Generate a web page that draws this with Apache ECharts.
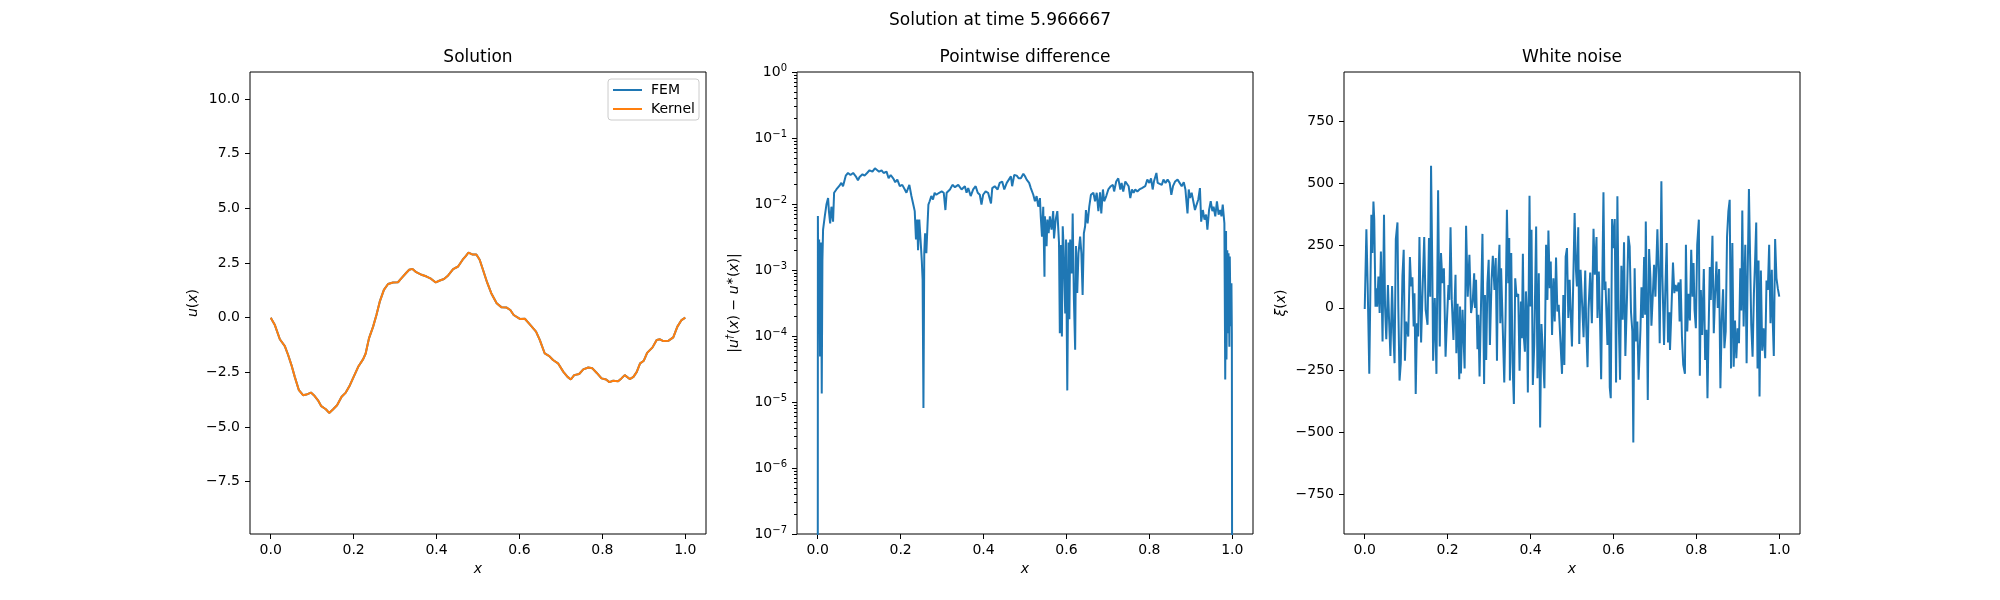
<!DOCTYPE html>
<html>
<head>
<meta charset="utf-8">
<title>Solution at time 5.966667</title>
<script src="https://cdn.jsdelivr.net/npm/echarts@6/dist/echarts.min.js"></script>
<style>
  html, body { margin: 0; padding: 0; background: #ffffff; }
  #chart { width: 2000px; height: 600px; }
</style>
</head>
<body>
<div id="chart"></div>
<script>
// --- Solution panel: FEM vs kernel solution u(x)
const solutionX = [0, 0.010, 0.022, 0.034, 0.042, 0.050, 0.058, 0.068, 0.078, 0.086, 0.097, 0.106, 0.114, 0.122, 0.133, 0.141, 0.150, 0.160, 0.171, 0.181, 0.191, 0.200, 0.211, 0.223, 0.229, 0.237, 0.247, 0.255, 0.263, 0.273, 0.283, 0.295, 0.307, 0.315, 0.326, 0.334, 0.342, 0.351, 0.364, 0.376, 0.385, 0.398, 0.408, 0.418, 0.428, 0.440, 0.452, 0.463, 0.471, 0.477, 0.486, 0.496, 0.504, 0.512, 0.522, 0.532, 0.545, 0.557, 0.569, 0.578, 0.586, 0.601, 0.613, 0.625, 0.640, 0.649, 0.661, 0.672, 0.681, 0.693, 0.706, 0.716, 0.724, 0.732, 0.744, 0.754, 0.766, 0.776, 0.786, 0.798, 0.809, 0.817, 0.826, 0.838, 0.846, 0.854, 0.866, 0.875, 0.883, 0.891, 0.900, 0.908, 0.921, 0.931, 0.939, 0.947, 0.959, 0.971, 0.981, 0.991, 1.0];
const femU = [0, -0.34, -0.99, -1.30, -1.71, -2.17, -2.71, -3.32, -3.55, -3.52, -3.43, -3.59, -3.78, -4.05, -4.19, -4.36, -4.20, -4.01, -3.62, -3.43, -3.09, -2.71, -2.25, -1.90, -1.64, -0.95, -0.41, 0.12, 0.73, 1.27, 1.54, 1.61, 1.62, 1.80, 2.03, 2.19, 2.23, 2.08, 1.96, 1.88, 1.80, 1.61, 1.70, 1.77, 1.93, 2.22, 2.34, 2.65, 2.83, 2.98, 2.89, 2.89, 2.65, 2.19, 1.61, 1.12, 0.66, 0.47, 0.46, 0.35, 0.12, -0.06, -0.05, -0.31, -0.64, -1.02, -1.64, -1.76, -1.94, -2.09, -2.48, -2.71, -2.83, -2.63, -2.58, -2.37, -2.28, -2.32, -2.52, -2.78, -2.83, -2.95, -2.89, -2.91, -2.78, -2.63, -2.81, -2.71, -2.48, -2.09, -1.97, -1.61, -1.36, -1.02, -0.99, -1.07, -1.06, -0.90, -0.41, -0.11, 0];
const kernelU = [0, -0.34, -0.99, -1.30, -1.71, -2.17, -2.71, -3.32, -3.55, -3.52, -3.43, -3.59, -3.78, -4.05, -4.19, -4.36, -4.20, -4.01, -3.62, -3.43, -3.09, -2.71, -2.25, -1.90, -1.64, -0.95, -0.41, 0.12, 0.73, 1.27, 1.54, 1.61, 1.62, 1.80, 2.03, 2.19, 2.23, 2.08, 1.96, 1.88, 1.80, 1.61, 1.70, 1.77, 1.93, 2.22, 2.34, 2.65, 2.83, 2.98, 2.89, 2.89, 2.65, 2.19, 1.61, 1.12, 0.66, 0.47, 0.46, 0.35, 0.12, -0.06, -0.05, -0.31, -0.64, -1.02, -1.64, -1.76, -1.94, -2.09, -2.48, -2.71, -2.83, -2.63, -2.58, -2.37, -2.28, -2.32, -2.52, -2.78, -2.83, -2.95, -2.89, -2.91, -2.78, -2.63, -2.81, -2.71, -2.48, -2.09, -1.97, -1.61, -1.36, -1.02, -0.99, -1.07, -1.06, -0.90, -0.41, -0.11, 0];

// --- Pointwise difference |u_dagger - u_star| (log scale); the ends are exactly zero
const diffX = [0, 0.0004, 0.0018, 0.0034, 0.0056, 0.008, 0.0097, 0.0113, 0.0129, 0.017, 0.021, 0.025, 0.027, 0.030, 0.033, 0.037, 0.0395, 0.045, 0.0515, 0.057, 0.061, 0.0676, 0.073, 0.079, 0.0854, 0.0918, 0.097, 0.101, 0.108, 0.113, 0.119, 0.125, 0.132, 0.138, 0.141, 0.148, 0.154, 0.159, 0.166, 0.171, 0.176, 0.182, 0.187, 0.192, 0.198, 0.204, 0.210, 0.214, 0.221, 0.226, 0.230, 0.234, 0.237, 0.240, 0.242, 0.245, 0.248, 0.251, 0.253, 0.255, 0.257, 0.259, 0.262, 0.265, 0.267, 0.270, 0.274, 0.278, 0.282, 0.286, 0.293, 0.299, 0.304, 0.308, 0.311, 0.319, 0.325, 0.331, 0.339,
  0.347, 0.355, 0.359, 0.363, 0.369, 0.375, 0.381, 0.386, 0.391, 0.395, 0.399, 0.405, 0.411, 0.418, 0.421, 0.427, 0.434, 0.439, 0.445, 0.450, 0.456, 0.461, 0.466, 0.469, 0.474, 0.480, 0.485, 0.490, 0.496, 0.500, 0.504, 0.510, 0.514, 0.520, 0.524, 0.528, 0.532, 0.536, 0.538, 0.541, 0.544, 0.547, 0.548, 0.552, 0.554, 0.557, 0.560, 0.564, 0.568, 0.570, 0.574, 0.578, 0.582, 0.584, 0.587, 0.589, 0.591, 0.593, 0.597, 0.599, 0.602, 0.605, 0.607, 0.609, 0.613, 0.615, 0.618, 0.621, 0.623, 0.626, 0.629, 0.633, 0.636, 0.639, 0.642, 0.645, 0.647, 0.651, 0.655, 0.659, 0.665, 0.669, 0.673, 0.677, 0.681,
  0.684, 0.688, 0.691, 0.696, 0.701, 0.707, 0.712, 0.715, 0.720, 0.725, 0.730, 0.733, 0.737, 0.742, 0.746, 0.750, 0.754, 0.758, 0.762, 0.766, 0.771, 0.776, 0.782, 0.786, 0.790, 0.795, 0.800, 0.804, 0.808, 0.811, 0.817, 0.820, 0.824, 0.830, 0.834, 0.839, 0.844, 0.849, 0.853, 0.857, 0.862, 0.868, 0.873, 0.878, 0.883, 0.887, 0.889, 0.892, 0.895, 0.898, 0.902, 0.906, 0.910, 0.914, 0.918, 0.922, 0.925, 0.929, 0.933, 0.937, 0.940, 0.944, 0.948, 0.952, 0.955, 0.959, 0.963, 0.967, 0.971, 0.974, 0.977, 0.980, 0.981, 0.983, 0.985, 0.986, 0.988, 0.989, 0.991, 0.993, 0.994, 0.996, 0.998, 0.999, 1.0];
const diffErr = [1e-10, 0.0066, 0.00011, 0.0029, 0.000049, 0.0026, 0.0000135, 0.0014, 0.0041, 0.0065, 0.0098, 0.0123, 0.0078, 0.0051, 0.0091, 0.0054, 0.0148, 0.0166, 0.0186, 0.0209, 0.0186, 0.0269, 0.0295, 0.0275, 0.0295, 0.0263, 0.0229, 0.0257, 0.0282, 0.0269, 0.0295, 0.0324, 0.0309, 0.0347, 0.0372, 0.0309, 0.0324, 0.0295, 0.0309, 0.0245, 0.0275, 0.0245, 0.0214, 0.0234, 0.0186, 0.0195, 0.0166, 0.0148, 0.0195, 0.0132, 0.0102, 0.0078, 0.0029, 0.0058, 0.0020, 0.0058, 0.0029, 0.0014, 0.00071, 0.0000081, 0.0018, 0.0036, 0.0018, 0.0051, 0.0098, 0.011, 0.0132, 0.0117, 0.0148, 0.0138, 0.0148, 0.0155, 0.0148, 0.0081, 0.0148, 0.0166, 0.0195, 0.0180, 0.0195,
  0.0166, 0.0186, 0.0148, 0.0174, 0.0132, 0.0166, 0.0186, 0.0148, 0.0138, 0.0098, 0.0138, 0.0155, 0.0148, 0.0102, 0.0174, 0.0186, 0.0166, 0.0209, 0.0219, 0.0166, 0.0209, 0.0234, 0.0263, 0.0186, 0.0275, 0.0269, 0.0245, 0.0245, 0.0288, 0.0263, 0.0234, 0.0209, 0.0174, 0.0138, 0.0110, 0.0132, 0.0091, 0.0123, 0.0065, 0.0032, 0.0091, 0.00079, 0.0065, 0.0023, 0.0058, 0.0036, 0.0065, 0.0041, 0.0078, 0.0030, 0.0058, 0.0078, 0.0026, 0.00011, 0.0024, 0.000098, 0.0046, 0.0023, 0.00022, 0.0029, 0.000015, 0.0026, 0.00018, 0.0029, 0.00089, 0.0072, 0.00035, 0.000062, 0.0023, 0.00045, 0.0018, 0.0032, 0.0018, 0.00042, 0.0036, 0.0046, 0.0081, 0.0051, 0.0091, 0.0138, 0.0148, 0.0110, 0.0148, 0.0078, 0.0150,
  0.0072, 0.0166, 0.0110, 0.0132, 0.0166, 0.0186, 0.0195, 0.0155, 0.0219, 0.0245, 0.0166, 0.0209, 0.0155, 0.0219, 0.0234, 0.0186, 0.0123, 0.0166, 0.0148, 0.0166, 0.0155, 0.0166, 0.0174, 0.0166, 0.0186, 0.0234, 0.0209, 0.0245, 0.0166, 0.0219, 0.0295, 0.0209, 0.0219, 0.0195, 0.0234, 0.0209, 0.0234, 0.0209, 0.0138, 0.0186, 0.0219, 0.0234, 0.0209, 0.0186, 0.0214, 0.0166, 0.0117, 0.0072, 0.0166, 0.0123, 0.0148, 0.0110, 0.0081, 0.0098, 0.0117, 0.0174, 0.0054, 0.0081, 0.0058, 0.0069, 0.0041, 0.0081, 0.0110, 0.0078, 0.0091, 0.0065, 0.0110, 0.0069, 0.0081, 0.0065, 0.0098, 0.0102, 0.0051, 0.000022, 0.0039, 0.000044, 0.0020, 0.00011, 0.0018, 0.000069, 0.0016, 0.00014, 0.00063, 0.00011, 1e-10];

// --- White noise xi(x)
const noiseX = [0.000, 0.004, 0.007, 0.011, 0.016, 0.0185, 0.021, 0.023, 0.026, 0.028, 0.030, 0.033, 0.036, 0.039, 0.043, 0.0465, 0.049, 0.052, 0.056, 0.059, 0.062, 0.066, 0.069, 0.072, 0.075, 0.079, 0.081, 0.084, 0.087, 0.091, 0.094, 0.097, 0.100, 0.105, 0.109, 0.112, 0.115, 0.118, 0.120, 0.123, 0.126, 0.129, 0.132, 0.136, 0.140, 0.1435, 0.147, 0.1515, 0.155, 0.158, 0.160, 0.163, 0.165, 0.169, 0.173, 0.177, 0.181, 0.184, 0.1875, 0.191, 0.195, 0.198, 0.202, 0.204, 0.207, 0.210, 0.214, 0.219, 0.221, 0.224, 0.228, 0.230, 0.232, 0.236, 0.241, 0.2445, 0.2485, 0.2525, 0.2565, 0.2605, 0.264, 0.266, 0.2685, 0.272, 0.274, 0.277, 0.284, 0.288, 0.290, 0.293, 0.296, 0.299, 0.302, 0.306, 0.309, 0.313, 0.316, 0.319, 0.321, 0.325, 0.327, 0.329,
  0.3366, 0.3398, 0.343, 0.3462, 0.3486, 0.3502, 0.3534, 0.3566, 0.3598, 0.363, 0.3662, 0.3703, 0.3735, 0.3767, 0.379, 0.3815, 0.384, 0.3864, 0.3888, 0.3912, 0.3935, 0.3975, 0.400, 0.4023, 0.4055, 0.409, 0.4135, 0.4167, 0.4199, 0.4231, 0.4263, 0.4295, 0.4335, 0.4375, 0.4407, 0.4431, 0.4463, 0.4487, 0.4519, 0.4551, 0.4583, 0.4615, 0.4647, 0.4679, 0.4719, 0.4759, 0.4791, 0.4815, 0.4847, 0.4879, 0.4911, 0.4943, 0.4975, 0.4999, 0.503, 0.5063, 0.5095, 0.5119, 0.5151, 0.5175, 0.5207, 0.5247, 0.5279, 0.5319, 0.5343, 0.5375, 0.5399, 0.5439, 0.5479, 0.5519, 0.5551, 0.5591, 0.5615, 0.5647, 0.5671, 0.5703, 0.5735, 0.5759, 0.5783, 0.5807, 0.5855, 0.5887, 0.5911, 0.5935, 0.5967, 0.5999, 0.6031, 0.6063, 0.6095, 0.6127, 0.6159, 0.6191, 0.6223, 0.6255, 0.6287, 0.6327, 0.6359, 0.6391, 0.6423, 0.6455, 0.6479, 0.6511, 0.6543, 0.6575, 0.6607,
  0.6651, 0.6676, 0.6708, 0.674, 0.6764, 0.678, 0.6804, 0.6828, 0.686, 0.6892, 0.6916, 0.6948, 0.698, 0.7012, 0.706, 0.7092, 0.7116, 0.7156, 0.718, 0.722, 0.7252, 0.7284, 0.7316, 0.7348, 0.7364, 0.7396, 0.7436, 0.7468, 0.75, 0.7532, 0.7572, 0.7596, 0.762, 0.7652, 0.7684, 0.7724, 0.7748, 0.778, 0.7812, 0.7844, 0.7876, 0.7908, 0.7932, 0.7956, 0.7988, 0.802, 0.806, 0.8084, 0.8108, 0.814, 0.818, 0.8212, 0.8244, 0.8268, 0.8292, 0.8324, 0.8348, 0.8388, 0.842, 0.8452, 0.8484, 0.8516, 0.8548, 0.858, 0.8612, 0.8644, 0.8676, 0.8708, 0.874, 0.8772, 0.8804, 0.8836, 0.8868, 0.89, 0.8932, 0.8964, 0.8996, 0.9028, 0.906, 0.9084, 0.9108, 0.914, 0.918, 0.9212, 0.9236, 0.9268, 0.93, 0.9324, 0.9356, 0.9388, 0.9412, 0.9444, 0.9476, 0.95, 0.9524, 0.9556, 0.9588, 0.962, 0.966, 0.9692, 0.9724, 0.9756, 0.9788, 0.982, 0.9844, 0.9868, 0.99, 0.9932, 0.9964, 1.0];
const noiseXi = [-5, 316, 99, -265, 374, 220, 427, 354, 5, 79, 5, 126, -21, 226, -135, 374, 5, -126, 92, -62, -193, 88, -102, -222, 276, 343, 5, -292, -222, 129, 233, -212, -55, -115, 204, 86, 123, -75, 59, -346, -62, -115, 284, -139, 99, 284, -8, -68, 280, 45, 571, 166, -212, 39, -265, 472, -155, 220, 99, 159, -196, -65, 92, 32, 324, 32, -129, 133, -182, 16, -287, 5, -263, -8, -243, 330, 45, 213, -21, 25, 139, 0, 113, -166, -28, -276, 297, -306, 52, -209, 99, 193, -149, 113, 209, 72, 200, -212, 99, 253, -62, 159,
  -300, -28, 394, 99, 280, -292, 220, -222, -386, 119, 45, 56, -252, 25, -122, 217, -122, -176, 66, -21, -340, 450, 5, 314, -310, -144, 327, -283, 139, -480, -65, -169, -323, 253, 32, 311, 79, 186, -109, 119, -55, 202, -15, 12, -129, -265, 52, -229, 206, 240, -41, 113, -48, -155, -150, 381, 153, 86, 324, -145, 153, 5, -118, 150, -75, -238, -5, 142, -62, 318, 133, 284, -41, 146, -8, -287, 153, 464, 72, 106, -149, 79, -319, -363, 357, 240, 357, -300, 448, -48, -289, 169, -48, 263, -193, 45, 289, 247, -15, -95, -541, 159, -135, -55, -289,
  -88, 83, -41, 204, -28, 347, 39, -370, 236, 119, -72, 45, 173, 45, 316, 119, -142, 508, 133, -149, 79, 260, -139, -18, -169, -21, 182, 59, 92, 66, 102, -55, 115, -115, -229, -265, 253, -95, 56, -51, 233, 45, 180, -8, -82, 253, 354, -273, 72, -109, 156, -209, -88, -363, -122, 164, 32, 289, -102, 56, 186, 0, 156, -323, -48, 75, -162, -95, 287, 387, 434, -243, 260, -236, -51, -202, -82, -142, 159, -11, 391, -75, 253, -222, 113, 477, 166, -68, -196, 56, 166, 343, -243, 190, -356, 150, -172, -82, -202, 110, 72, 253, -62, 153, -62, -193, 276, 119, 79, 45];

// --- Tick positions
const xTicks = [0, 0.2, 0.4, 0.6, 0.8, 1.0];
const solutionTicks = [-7.5, -5, -2.5, 0, 2.5, 5, 7.5, 10];
const diffTicks = [1e-7, 1e-6, 1e-5, 1e-4, 1e-3, 1e-2, 1e-1, 1];
const noiseTicks = [-750, -500, -250, 0, 250, 500, 750];

// minor log ticks 2..9 x 10^k
const diffMinorTicks = [];
for (let k = -7; k < 0; k++) {
    for (let m = 2; m <= 9; m++) diffMinorTicks.push(m * Math.pow(10, k));
}

const FONT = 'DejaVu Sans';
const BLUE = '#1f77b4';
const ORANGE = '#ff7f0e';
const MINUS = '\u2212';

const pairs = (xs, ys) => xs.map((x, i) => [x, ys[i]]);

const grids = [250, 797, 1344].map(left => ({
    left: left, top: 72, width: 456, height: 462,
    show: true, borderColor: '#000', borderWidth: 1, backgroundColor: 'transparent'
}));

const italicRich = {
    i: { fontStyle: 'italic', fontFamily: FONT, fontSize: 14, color: '#000' },
    s: { fontStyle: 'italic', fontFamily: FONT, fontSize: 10, color: '#000', verticalAlign: 'top', lineHeight: 10 }
};

function tickStyle(values, len) {
    return { show: true, inside: false, length: len, customValues: values,
             lineStyle: { color: '#000', width: 1 } };
}

function labelStyle(values, fmt, margin) {
    return { show: true, customValues: values, formatter: fmt, margin: margin,
             fontFamily: FONT, fontSize: 14, color: '#000' };
}

// no axis line (the grid border draws the frame), and never move it onto zero
const noLine = { show: false, onZero: false };

function xAxisFor(idx) {
    return {
        type: 'value', gridIndex: idx, position: 'bottom', min: -0.05, max: 1.05,
        name: '{i|x}', nameLocation: 'middle', nameGap: 27,
        nameTextStyle: { fontFamily: FONT, fontSize: 14, color: '#000', rich: italicRich },
        axisLine: noLine,
        axisTick: tickStyle(xTicks, 5),
        axisLabel: labelStyle(xTicks, v => v.toFixed(1), 9),
        splitLine: { show: false }
    };
}

const titleStyle = { fontFamily: FONT, fontSize: 17, fontWeight: 'normal', color: '#000' };

const option = {
    animation: false,
    backgroundColor: '#ffffff',
    title: [
        { text: 'Solution at time 5.966667', left: 1000, top: 12, textAlign: 'center', padding: 0, textStyle: titleStyle },
        { text: 'Solution', left: 478, top: 49, textAlign: 'center', padding: 0, textStyle: titleStyle },
        { text: 'Pointwise difference', left: 1025, top: 49, textAlign: 'center', padding: 0, textStyle: titleStyle },
        { text: 'White noise', left: 1572, top: 49, textAlign: 'center', padding: 0, textStyle: titleStyle }
    ],
    legend: {
        data: ['FEM', 'Kernel'],
        orient: 'vertical',
        right: 1301, top: 79,
        icon: 'rect', itemWidth: 29, itemHeight: 2, itemGap: 5,
        padding: [4, 4, 4, 5],
        borderColor: '#cccccc', borderWidth: 1, borderRadius: 3,
        backgroundColor: 'rgba(255,255,255,0.8)',
        textStyle: { fontFamily: FONT, fontSize: 14, color: '#000', padding: [0, 0, 0, 4] }
    },
    grid: grids,
    xAxis: [xAxisFor(0), xAxisFor(1), xAxisFor(2)],
    yAxis: [
        {
            type: 'value', gridIndex: 0, position: 'left', min: -9.9, max: 11.24,
            name: '{i|u}({i|x})', nameLocation: 'middle', nameGap: 50,
            nameTextStyle: { fontFamily: FONT, fontSize: 14, color: '#000', rich: italicRich },
            axisLine: noLine,
            axisTick: tickStyle(solutionTicks, 5),
            axisLabel: labelStyle(solutionTicks, v => v.toFixed(1).replace('-', MINUS), 10),
            splitLine: { show: false }
        },
        {
            type: 'log', logBase: 10, gridIndex: 1, position: 'left', min: 1e-7, max: 1,
            name: '|{i|u}{s|\u2020}(' + '{i|x}) ' + MINUS + ' {i|u}{s|\u2217}({i|x})|',
            nameLocation: 'middle', nameGap: 54,
            nameTextStyle: { fontFamily: FONT, fontSize: 14, color: '#000', lineHeight: 18, rich: italicRich },
            axisLine: noLine,
            axisTick: tickStyle(diffTicks, 5),
            axisLabel: {
                show: true, customValues: diffTicks, margin: 10,
                formatter: v => {
                    const e = Math.round(Math.log10(v));
                    return '{b|10}{e|' + (e < 0 ? MINUS + (-e) : e) + '}';
                },
                rich: {
                    b: { fontFamily: FONT, fontSize: 14, color: '#000', lineHeight: 18 },
                    e: { fontFamily: FONT, fontSize: 10, color: '#000', verticalAlign: 'top', lineHeight: 10 }
                }
            },
            splitLine: { show: false }
        },
        {
            // minor ticks of the log axis only
            type: 'log', logBase: 10, gridIndex: 1, position: 'left', offset: 0, min: 1e-7, max: 1,
            axisLine: noLine,
            axisTick: tickStyle(diffMinorTicks, 3),
            axisLabel: { show: false },
            splitLine: { show: false }
        },
        {
            type: 'value', gridIndex: 2, position: 'left', min: -908, max: 947,
            name: '{i|\u03be}({i|x})', nameLocation: 'middle', nameGap: 56,
            nameTextStyle: { fontFamily: FONT, fontSize: 14, color: '#000', rich: italicRich },
            axisLine: noLine,
            axisTick: tickStyle(noiseTicks, 5),
            axisLabel: labelStyle(noiseTicks, v => String(v).replace('-', MINUS), 10),
            splitLine: { show: false }
        }
    ],
    series: [
        {
            name: 'FEM', type: 'line', xAxisIndex: 0, yAxisIndex: 0,
            data: pairs(solutionX, femU), symbol: 'none',
            lineStyle: { color: BLUE, width: 2 }, itemStyle: { color: BLUE }
        },
        {
            name: 'Kernel', type: 'line', xAxisIndex: 0, yAxisIndex: 0,
            data: pairs(solutionX, kernelU), symbol: 'none',
            lineStyle: { color: ORANGE, width: 2 }, itemStyle: { color: ORANGE }
        },
        {
            name: 'difference', type: 'line', xAxisIndex: 1, yAxisIndex: 1,
            data: pairs(diffX, diffErr), symbol: 'none', clip: true,
            lineStyle: { color: BLUE, width: 2 }, itemStyle: { color: BLUE }
        },
        {
            name: 'noise', type: 'line', xAxisIndex: 2, yAxisIndex: 3,
            data: pairs(noiseX, noiseXi), symbol: 'none',
            lineStyle: { color: BLUE, width: 2 }, itemStyle: { color: BLUE }
        }
    ]
};

const chart = echarts.init(document.getElementById('chart'), null, { renderer: 'canvas' });
chart.setOption(option);
</script>
</body>
</html>
